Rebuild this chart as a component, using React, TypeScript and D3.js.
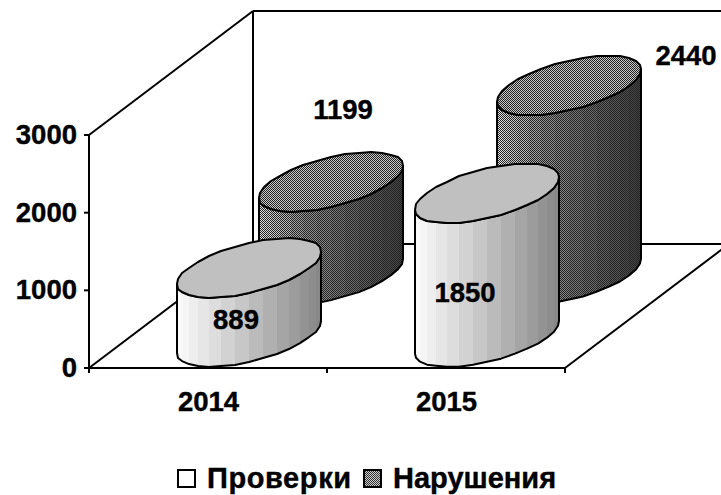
import React from "react";
import * as d3 from "d3";

const categories = ["2014", "2015"];
const seriesNames = ["Проверки", "Нарушения"];
const checks = [889, 1850];
const violations = [1199, 2440];
const yTicks = [0, 1000, 2000, 3000];

const W = 721, H = 495;
const plot = { left: 89, right: 565, bottom: 368, top: 135 };
const depthVec = { x: 164, y: -124 };
const font = "'Liberation Sans', Arial, sans-serif";

const y = d3.scaleLinear().domain([0, 3000]).range([plot.bottom, plot.top]);
const x = d3.scaleBand<string>().domain(categories).range([plot.left, plot.right]).paddingInner(0.49).paddingOuter(0.245);
const xCenter = d3.scalePoint<string>().domain(categories).range([plot.left, plot.right]).padding(0.5);
const depth = d3.scaleBand<string>().domain(seriesNames).range([0, 1]).paddingInner(0.04).paddingOuter(0.02);

const labelOffset: Record<string, [number, number]> = {
  "889": [-13, 52],
  "1850": [-22, 99],
  "1199": [12, -72],
  "2440": [117, -30],
};

const N = 32;
const line = d3.line<[number, number]>().curve(d3.curveLinearClosed);

function cylinder(cat: string, ser: string, value: number) {
  const dc = depth(ser)! + depth.bandwidth() / 2;
  const a = x.bandwidth() / 2;
  const dxh = (depth.bandwidth() / 2) * depthVec.x;
  const dyh = (depth.bandwidth() / 2) * depthVec.y;
  const cx = xCenter(cat)! + dc * depthVec.x;
  const baseY = y(0) + dc * depthVec.y;
  const h = y(0) - y(value);
  const topY = baseY - h;
  const offset = Math.atan2(dxh, a);
  // start at the leftmost point and walk through the lower edge to the rightmost
  const pts: [number, number][] = d3.range(N).map(i => {
    const t = Math.PI + offset + (i / N) * 2 * Math.PI;
    return [Math.round(cx + a * Math.cos(t) + dxh * Math.sin(t)), Math.round(topY + dyh * Math.sin(t))];
  });
  const front = pts.slice(0, N / 2 + 1);
  return { cx, topY, h, pts, front };
}

function Cylinder({ cat, ser, value, dark }: { cat: string; ser: string; value: number; dark: boolean }) {
  const c = cylinder(cat, ser, value);
  const x0 = c.front[0][0], x1 = c.front[c.front.length - 1][0];
  const shade = dark
    ? d3.scaleLinear<string>().domain([0, 0.3, 0.8, 1]).range(["#e8e8e8", "#9a9a9a", "#5a5a5a", "#404040"])
    : d3.scaleLinear<string>().domain([0, 0.1, 1]).range(["#fcfcfc", "#f0f0f0", "#868686"]);
  const outline: [number, number][] = [...c.front.map(p => [p[0], p[1] + c.h] as [number, number]), ...c.front.slice().reverse()];
  return (
    <g>
      {c.front.slice(1).map((p, i) => {
        const q = c.front[i];
        const f = ((p[0] + q[0]) / 2 - x0) / (x1 - x0);
        const poly: [number, number][] = [q, [p[0] + 0.5, p[1]], [p[0] + 0.5, p[1] + c.h], [q[0], q[1] + c.h]];
        return <path key={i} d={line(poly)!} fill={shade(f)} />;
      })}
      {dark && <path d={line(outline)!} fill="url(#dith)" />}
      <path d={line(outline)!} fill="none" stroke="#000" strokeWidth={2} strokeLinejoin="round" />
      <path d={line(c.pts)!} fill={dark ? "#c8c8c8" : "#c0c0c0"} />
      {dark && <path d={line(c.pts)!} fill="url(#dith)" />}
      <path d={line(c.pts)!} fill="none" stroke="#000" strokeWidth={2} strokeLinejoin="round" />
    </g>
  );
}

export default function App() {
  const txt = { fontFamily: font, fontWeight: 700, fontSize: 27.5, fill: "#000", stroke: "#000", strokeWidth: 0.4 } as const;
  const bars = categories.map((cat, i) => ({ cat, front: checks[i], back: violations[i] }));
  return (
    <svg width={W} height={H} viewBox={`0 0 ${W} ${H}`} style={{ position: "absolute", left: 0, top: 0, background: "#fff" }}>
      <defs>
        <pattern id="dith" width={2} height={2} patternUnits="userSpaceOnUse">
          <rect x={0} y={0} width={1} height={1} fill="#222" shapeRendering="crispEdges" />
          <rect x={1} y={1} width={1} height={1} fill="#222" shapeRendering="crispEdges" />
        </pattern>
        <pattern id="legendDith" width={2} height={2} patternUnits="userSpaceOnUse">
          <rect width={2} height={2} fill="#ccc" />
          <rect x={0} y={0} width={1} height={1} fill="#333" shapeRendering="crispEdges" />
          <rect x={1} y={1} width={1} height={1} fill="#333" shapeRendering="crispEdges" />
        </pattern>
      </defs>

      <g stroke="#000" strokeWidth={2} fill="none">
        <line x1={plot.left} y1={y(3000)} x2={plot.left} y2={y(0) + 5} />
        <line x1={plot.left - 5} y1={y(0)} x2={plot.right} y2={y(0)} />
        <line x1={plot.left} y1={y(0)} x2={plot.left + depthVec.x} y2={y(0) + depthVec.y} />
        <line x1={plot.left} y1={y(3000)} x2={plot.left + depthVec.x} y2={y(3000) + depthVec.y} />
        <line x1={plot.left + depthVec.x} y1={y(3000) + depthVec.y} x2={plot.left + depthVec.x} y2={y(0) + depthVec.y} />
        <line x1={plot.left + depthVec.x} y1={y(3000) + depthVec.y} x2={plot.right + depthVec.x} y2={y(3000) + depthVec.y} />
        <line x1={plot.left + depthVec.x} y1={y(0) + depthVec.y} x2={plot.right + depthVec.x} y2={y(0) + depthVec.y} />
        <line x1={plot.right} y1={y(0)} x2={plot.right + depthVec.x} y2={y(0) + depthVec.y} />
        <line x1={plot.right} y1={y(0)} x2={plot.right} y2={y(0) + 5} />
        <line x1={(plot.left + plot.right) / 2} y1={y(0)} x2={(plot.left + plot.right) / 2} y2={y(0) + 5} />
        {yTicks.map(t => <line key={t} x1={plot.left - 5} x2={plot.left} y1={y(t)} y2={y(t)} />)}
      </g>

      {yTicks.map(t => (
        <text key={t} x={77} y={y(t) + 9} textAnchor="end" {...txt}>{t}</text>
      ))}
      {categories.map(c => (
        <text key={c} x={xCenter(c)! + 0.5} y={411} textAnchor="middle" {...txt}>{c}</text>
      ))}

      {bars.map(b => <Cylinder key={b.cat} cat={b.cat} ser={seriesNames[1]} value={b.back} dark />)}
      {bars.map(b => <Cylinder key={b.cat} cat={b.cat} ser={seriesNames[0]} value={b.front} dark={false} />)}

      {bars.flatMap(b => [
        { cat: b.cat, ser: seriesNames[1], v: b.back },
        { cat: b.cat, ser: seriesNames[0], v: b.front },
      ]).map(d => {
        const c = cylinder(d.cat, d.ser, d.v);
        const off = labelOffset[String(d.v)];
        return (
          <text key={d.v} x={c.cx + off[0]} y={c.topY + off[1] + 9.5} textAnchor="middle" {...txt}>{d.v}</text>
        );
      })}

      <rect x={178} y={470} width={17} height={17} fill="#fff" stroke="#000" strokeWidth={2} />
      <text x={207} y={488} {...txt} fontSize={29} letterSpacing={0.6}>{seriesNames[0]}</text>
      <rect x={364} y={470} width={17} height={17} fill="url(#legendDith)" stroke="#000" strokeWidth={2} />
      <text x={393} y={488} {...txt} fontSize={29}>{seriesNames[1]}</text>
    </svg>
  );
}
